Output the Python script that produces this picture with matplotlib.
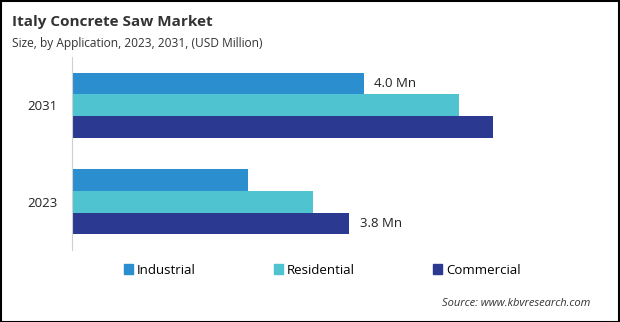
import matplotlib

matplotlib.use("Agg")
import matplotlib.pyplot as plt
import numpy as np
from matplotlib.patches import Rectangle

plt.rcParams["font.family"] = ["Open Sans", "DejaVu Sans"]

years = ["2023", "2031"]
series = ["Industrial", "Residential", "Commercial"]
industrial = [2.41, 4.0]
residential = [3.30, 5.30]
commercial = [3.8, 5.77]
colors = ["#2B8FCF", "#4FC3CF", "#2B3990"]
labels = {("Industrial", 1): "4.0 Mn", ("Commercial", 0): "3.8 Mn"}

fig = plt.figure(figsize=(6.2, 3.22), dpi=100)
ax = fig.add_axes([72 / 620, 72 / 322, 511 / 620, 193 / 322])

y = np.arange(len(years))
h = 0.224
values = [industrial, residential, commercial]
for i, (name, vals, col) in enumerate(zip(series, values, colors)):
    pos = y + h * (1 - i)
    ax.barh(pos, vals, height=h, color=col, label=name)
    for j, v in enumerate(vals):
        if (name, j) in labels:
            ax.text(v + 0.14, pos[j], labels[(name, j)], va="center", ha="left",
                    fontsize=9.5, color="#222222")

ax.set_xlim(0, 7)
ax.set_ylim(-0.5, 1.5)
ax.set_yticks(y)
ax.set_yticklabels(years, fontsize=9.5, color="#222222")
ax.tick_params(axis="y", length=0, pad=10.5)
ax.set_xticks([])
for side in ["top", "right", "bottom"]:
    ax.spines[side].set_visible(False)
ax.spines["left"].set_color("#d0d0d0")

fig.text(12 / 620, 1 - 22 / 322, "Italy Concrete Saw Market", fontsize=11,
         fontweight="bold", color="#333333", va="center")
fig.text(12 / 620, 1 - 43 / 322, "Size, by Application, 2023, 2031, (USD Million)",
         fontsize=8.6, color="#333333", va="center")

handles = [Rectangle((0, 0), 1, 1, color=c) for c in colors]
fig.legend(handles, series, loc="center", bbox_to_anchor=(322 / 620, 1 - 270 / 322),
           ncol=3, frameon=False, fontsize=9.5, handlelength=0.7, handleheight=0.7,
           handletextpad=0.3, columnspacing=5.9)

fig.text(590 / 620, 1 - 304 / 322, "Source: www.kbvresearch.com", fontsize=8,
         style="italic", color="#333333", ha="right", va="center")

fig.patches.append(Rectangle((0.5 / 620, 0.5 / 322), 618.5 / 620, 320.5 / 322,
                             transform=fig.transFigure, fill=False,
                             edgecolor="black", linewidth=1.5))

fig.savefig("out.png", dpi=100)
